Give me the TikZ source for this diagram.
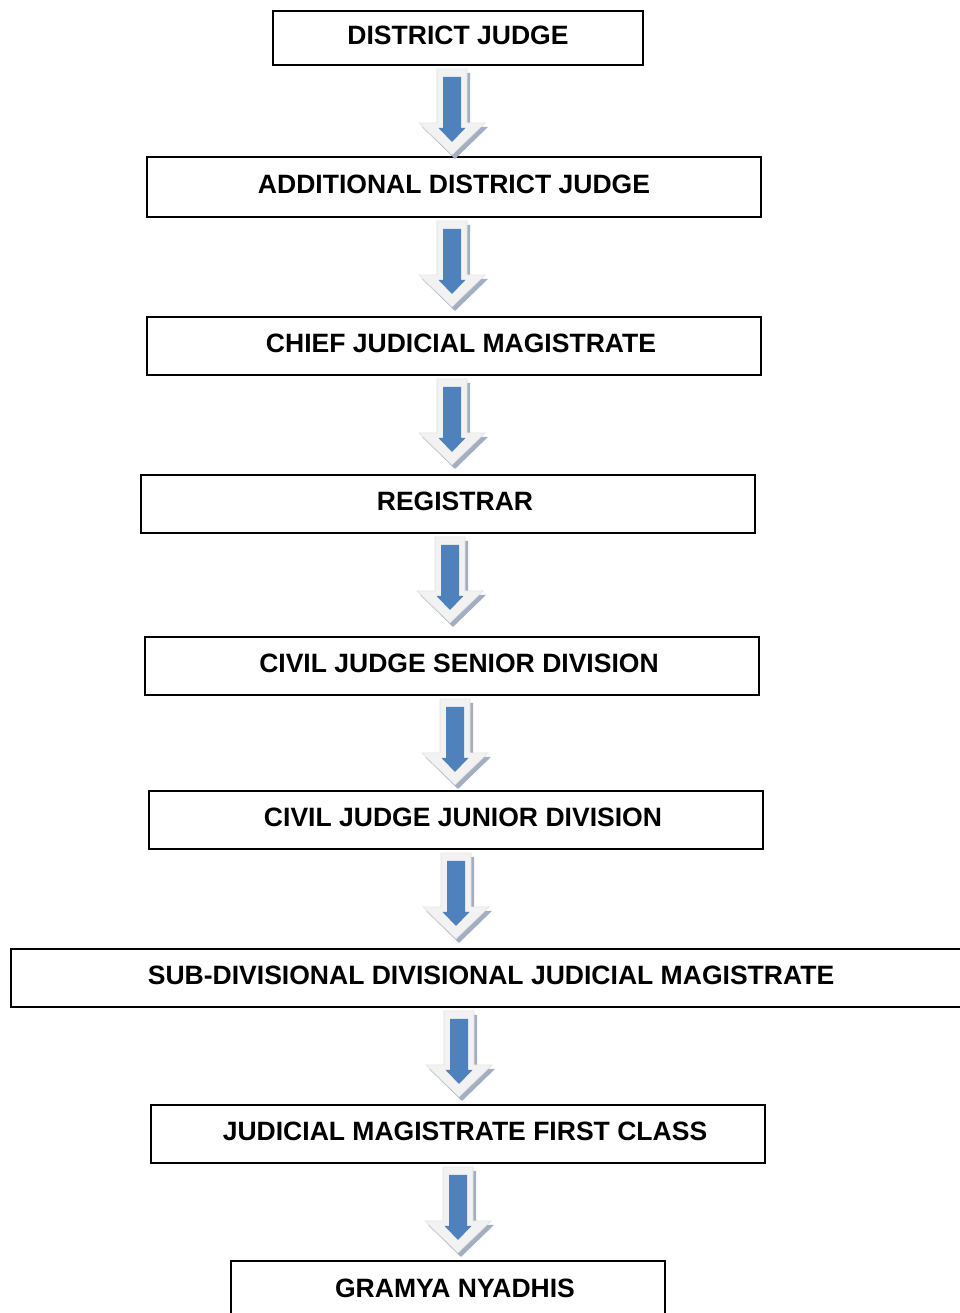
\documentclass[tikz,border=0pt]{standalone}
\usepackage{fontspec}
\setmainfont{Liberation Sans}
\definecolor{arrowblue}{HTML}{4F81BD}
\definecolor{arrowshade}{HTML}{A3AEC0}
\definecolor{arrowface}{HTML}{F2F2F2}
\tikzset{
    rank/.style={draw, line width=1.1pt, inner sep=0pt, text depth=0.12cm,
        font=\fontsize{15.1}{17}\selectfont\bfseries},
    nudge/.style={execute at begin node={\hspace*{0.28cm}}},
}
\begin{document}
\begin{tikzpicture}[x=0.02cm, y=-0.02cm]
        \useasboundingbox (0,0) rectangle (960,1313);
        \clip (0,0) rectangle (960,1313);

        % Ranks
        \node[rank, minimum width=7.4cm, minimum height=1.08cm] (dj) at (458,38) {DISTRICT JUDGE};
        \node[rank, minimum width=12.28cm, minimum height=1.2cm] (adj) at (454,187) {ADDITIONAL DISTRICT JUDGE};
        \node[rank, nudge, minimum width=12.28cm, minimum height=1.16cm] (cjm) at (454,346) {CHIEF JUDICIAL MAGISTRATE};
        \node[rank, nudge, minimum width=12.28cm, minimum height=1.16cm] (reg) at (448,504) {REGISTRAR};
        \node[rank, nudge, minimum width=12.28cm, minimum height=1.16cm] (cjsd) at (452,666) {CIVIL JUDGE SENIOR DIVISION};
        \node[rank, nudge, minimum width=12.28cm, minimum height=1.16cm] (cjjd) at (456,820) {CIVIL JUDGE JUNIOR DIVISION};
        \node[rank, minimum width=19.2cm, minimum height=1.16cm] (sdjm) at (491,978) {SUB-DIVISIONAL DIVISIONAL JUDICIAL MAGISTRATE};
        \node[rank, nudge, minimum width=12.28cm, minimum height=1.16cm] (jmfc) at (458,1134) {JUDICIAL MAGISTRATE FIRST CLASS};
        \node[rank, nudge, minimum width=8.68cm, minimum height=1.2cm] (gn) at (448,1291) {GRAMYA NYADHIS};

        % Block arrows
        \foreach \a/\x in {dj/452, adj/452, cjm/452, reg/450, cjsd/455, cjjd/456, sdjm/459, jmfc/458}{
            \begin{scope}[shift={(\x,0 |- \a.south)}, yshift=-0.06cm]
                \fill[arrowshade] (-12,4) -- (18,4) -- (18,58) -- (36,58) -- (3,90) -- (-30,58) -- (-12,58) -- cycle;
                \filldraw[fill=arrowface, draw=white!88!black, line width=0.3pt]
                    (-15,0) -- (15,0) -- (15,54) -- (33,54) -- (0,86) -- (-33,54) -- (-15,54) -- cycle;
                \fill[arrowblue] (-9,8) -- (9,8) -- (9,59) -- (13.5,59) -- (0,73) -- (-13.5,59) -- (-9,59) -- cycle;
            \end{scope}
        }
    \end{tikzpicture}
\end{document}
